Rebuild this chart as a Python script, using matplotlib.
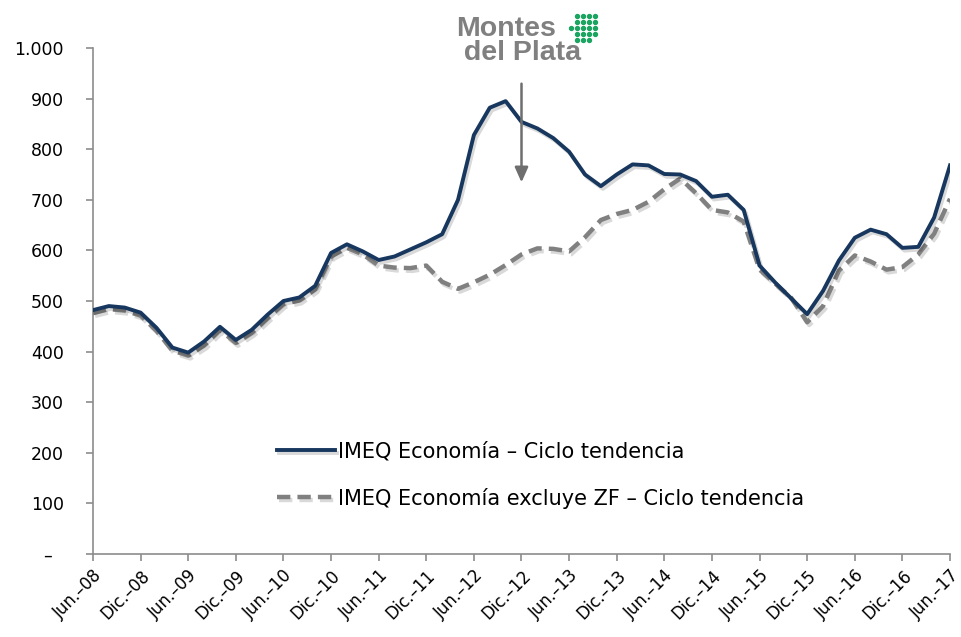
import numpy as np
import matplotlib
matplotlib.use("Agg")
import matplotlib.pyplot as plt
import matplotlib.patheffects as pe

plt.rcParams['font.family'] = ['DejaVu Sans']

# meses desde jun-08, cada 2 meses
meses = np.arange(0, 109, 2)
imeq = [482, 490, 487, 477, 447, 408, 398, 420, 449, 423,
        443, 473, 500, 507, 530, 595, 612, 598, 581, 588,
        602, 616, 632, 700, 828, 882, 895, 854, 841, 822,
        795, 750, 727, 750, 770, 768, 751, 750, 737, 706,
        710, 680, 570, 536, 505, 474, 520, 580, 625, 641,
        632, 605, 607, 665, 768]
imeq_sin_zf = [476, 484, 481, 471, 441, 402, 392, 412, 443, 417,
               437, 466, 494, 501, 523, 588, 605, 592, 570, 566,
               565, 570, 538, 524, 537, 552, 571, 592, 604, 603,
               598, 626, 660, 672, 680, 696, 721, 742, 713, 680,
               675, 657, 562, 534, 506, 458, 490, 560, 590, 578,
               562, 567, 592, 633, 702]

xticks = np.arange(0, 109, 6)
xlabels = ['Jun.–08', 'Dic.–08', 'Jun.–09', 'Dic.–09', 'Jun.–10', 'Dic.–10',
           'Jun.–11', 'Dic.–11', 'Jun.–12', 'Dic.–12', 'Jun.–13', 'Dic.–13',
           'Jun.–14', 'Dic.–14', 'Jun.–15', 'Dic.–15', 'Jun.–16', 'Dic.–16',
           'Jun.–17']
yticks = np.arange(0, 1001, 100)
ylabels = ['–  ', '100', '200', '300', '400', '500', '600', '700', '800', '900', '1.000']

fig = plt.figure(figsize=(9.62, 6.37), dpi=100)
ax = fig.add_axes([93/962, 1-554/637, 857/962, 506/637])

sombra = [pe.SimpleLineShadow(offset=(1.5, -2), shadow_color='k', alpha=0.15),
          pe.Normal()]

ax.plot(meses, imeq_sin_zf, color='#808080', lw=3.2, ls=(0, (3, 1.6)),
        solid_capstyle='butt', label='IMEQ Economía excluye ZF – Ciclo tendencia',
        path_effects=sombra, zorder=2)
ax.plot(meses, imeq, color='#17375E', lw=2.8, solid_joinstyle='round',
        label='IMEQ Economía – Ciclo tendencia', path_effects=sombra, zorder=3)

ax.set_xlim(0, 108)
ax.set_ylim(0, 1000)
ax.set_xticks(xticks)
ax.set_xticklabels(xlabels, rotation=45, ha='right', va='top', rotation_mode='anchor',
                   fontsize=12)
ax.set_yticks(yticks)
ax.set_yticklabels(ylabels, fontsize=12.5)

for s in ['top', 'right']:
    ax.spines[s].set_visible(False)
for s in ['left', 'bottom']:
    ax.spines[s].set_color('#8c8c8c')
    ax.spines[s].set_linewidth(1.2)
ax.tick_params(axis='both', color='#8c8c8c', length=5, width=1.2)
ax.tick_params(axis='y', pad=16)
ax.tick_params(axis='x', pad=4)

h, l = ax.get_legend_handles_labels()
ax.legend(h[::-1], l[::-1], loc='upper left', bbox_to_anchor=(0.215, 0.222),
          frameon=False, fontsize=15, handlelength=2.75, handletextpad=0.15,
          labelspacing=1.25, borderpad=0, borderaxespad=0)

# flecha Montes del Plata
ax.annotate('', xy=(54, 729), xytext=(54, 935),
            arrowprops=dict(arrowstyle='-|>,head_length=0.9,head_width=0.4',
                            color='#6e6e6e', lw=1.8))

# logo
fig.text(456/962, 1-41/637, 'Montes\n del Plata', ha='left', va='center',
         fontsize=20.5, fontweight='bold', color='#808080', linespacing=0.92,
         family='Liberation Sans')
logo = fig.add_axes([568/962, 1-43/637, 30/962, 30/637])
gx, gy = np.meshgrid(np.arange(5), np.arange(5))
mask = ~((gx == 0) & (gy != 2)) & ~((gx == 4) & (gy == 0))
logo.scatter(gx[mask], gy[mask], s=8, color='#1aa560')
logo.set_xlim(-0.5, 4.5)
logo.set_ylim(-0.5, 4.5)
logo.axis('off')

fig.savefig('out.png', dpi=100)
